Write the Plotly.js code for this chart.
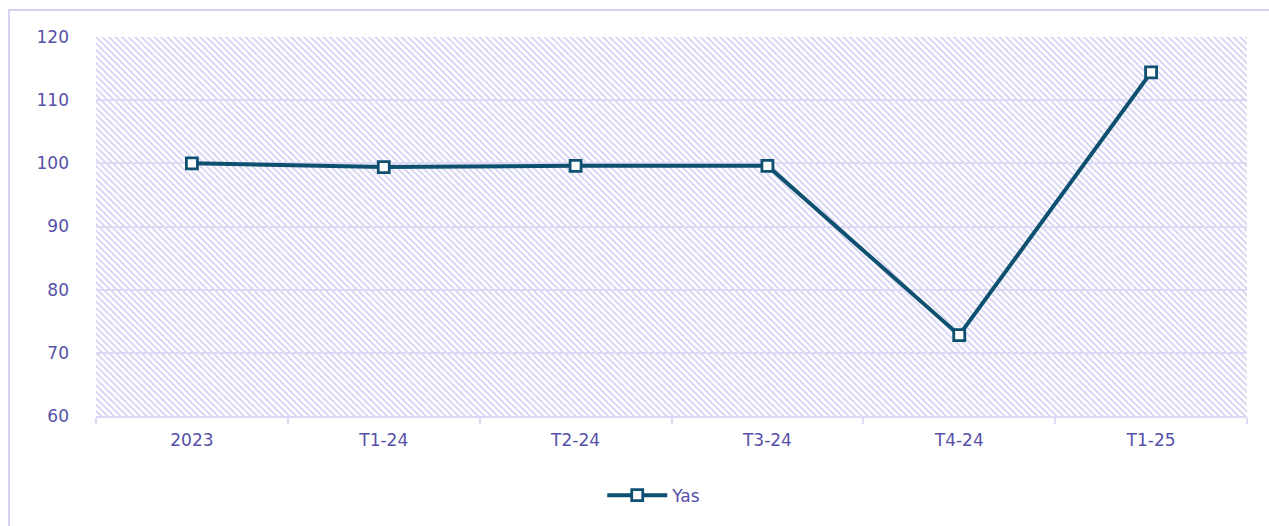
<!DOCTYPE html>
<html>
<head>
<meta charset="utf-8">
<script src="https://cdn.plot.ly/plotly-3.0.1.min.js"></script>
<style>
  body { margin: 0; background: #fff; overflow: hidden; }
  #frame {
    position: absolute; left: 8px; top: 9px; width: 1300px; height: 540px;
    border-top: 2px solid #d4d2f0; border-left: 2px solid #d4d2f0;
  }
  #chart { width: 1259px; height: 515px; }
</style>
</head>
<body>
<div id="frame"><div id="chart"></div></div>
<script>
const periods = ['2023', 'T1-24', 'T2-24', 'T3-24', 'T4-24', 'T1-25'];
const yasValues = [100, 99.4, 99.6, 99.6, 72.8, 114.4];
const yTicks = [60, 70, 80, 90, 100, 110, 120];

const lineColor = '#0d5070';
const labelColor = '#5650a8';
const gridColor = '#dcdaf4';

// hatched plot background, drawn as a stretched svg image
function hatchImage() {
    const svg = '<svg xmlns="http://www.w3.org/2000/svg" width="1151" height="382">' +
        '<defs><pattern id="h" width="6.5" height="6.5" patternUnits="userSpaceOnUse">' +
        '<path d="M-1,5.5 L1,7.5 M0,0 L6.5,6.5 M5.5,-1 L7.5,1" stroke="#d2d0f2" stroke-width="1.8"/>' +
        '</pattern></defs><rect width="1151" height="382" fill="url(#h)"/></svg>';
    return 'data:image/svg+xml;charset=utf-8,' + encodeURIComponent(svg);
}

const traces = [{
    x: periods,
    y: yasValues,
    type: 'scatter',
    mode: 'lines+markers',
    name: 'Yas',
    line: {color: lineColor, width: 4},
    marker: {symbol: 'square', size: 11, color: '#ffffff', line: {color: lineColor, width: 2.8}},
    hoverinfo: 'x+y'
}];

const layout = {
    width: 1259,
    height: 515,
    margin: {l: 86, r: 22, t: 26, b: 104},
    paper_bgcolor: '#ffffff',
    plot_bgcolor: 'rgba(0,0,0,0)',
    font: {family: 'DejaVu Sans, Verdana, sans-serif', size: 17, color: labelColor},
    xaxis: {
        type: 'category',
        range: [-0.5, 5.5],
        tickson: 'boundaries',
        ticks: 'outside',
        ticklen: 6,
        tickwidth: 2,
        tickcolor: gridColor,
        showline: true,
        linecolor: gridColor,
        linewidth: 2,
        showgrid: false,
        ticklabelstandoff: 8,
        tickfont: {size: 17, color: labelColor},
        fixedrange: true
    },
    yaxis: {
        range: [60, 120],
        tickvals: yTicks,
        showgrid: true,
        gridcolor: gridColor,
        gridwidth: 2,
        zeroline: false,
        showline: false,
        ticks: '',
        ticklabelstandoff: 26,
        tickfont: {size: 17, color: labelColor},
        fixedrange: true
    },
    showlegend: true,
    legend: {
        orientation: 'h',
        x: 0.485, xanchor: 'center',
        y: -0.21, yanchor: 'middle',
        itemwidth: 60,
        font: {size: 17, color: labelColor}
    },
    images: [{
        source: hatchImage(),
        xref: 'paper', yref: 'paper',
        x: 0, y: 1, sizex: 1, sizey: 1,
        xanchor: 'left', yanchor: 'top',
        sizing: 'stretch',
        layer: 'below'
    }]
};

Plotly.newPlot('chart', traces, layout, {displayModeBar: false, displaylogo: false});
</script>
</body>
</html>
